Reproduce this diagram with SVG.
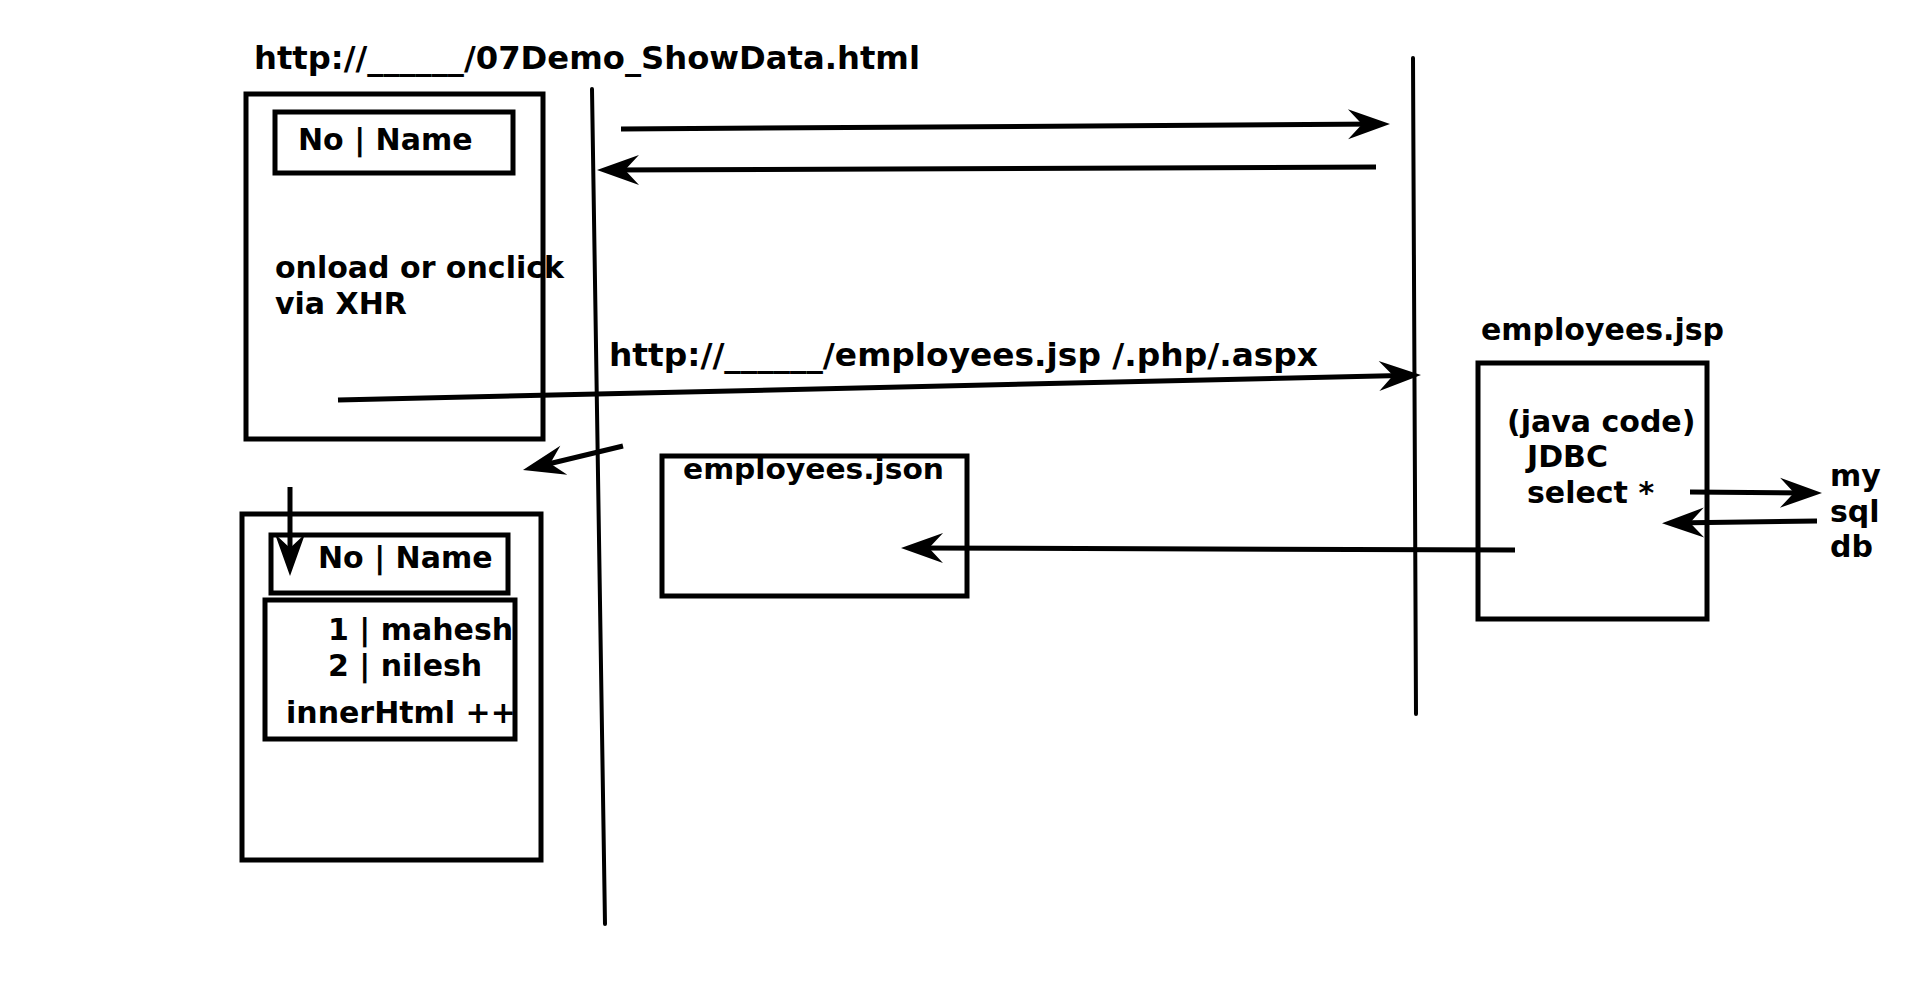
<svg xmlns="http://www.w3.org/2000/svg" width="1920" height="991" viewBox="0 0 1920 991">
<style>
  .t { font-family: "DejaVu Sans", "Liberation Sans", sans-serif; font-weight: bold; font-size: 30px; fill: #000; }
  .box { fill: none; stroke: #000; stroke-width: 5; }
  .life { stroke: #000; stroke-width: 4; fill: none; stroke-linecap: round; }
  .arr { stroke: #000; stroke-width: 5; fill: none; marker-end: url(#ah); }
</style>
<defs>
  <marker id="ah" markerUnits="userSpaceOnUse" markerWidth="50" markerHeight="40" viewBox="-46 -20 50 40" refX="-10" refY="0" orient="auto">
    <path d="M0,0 L-42,-15 L-28,0 L-42,15 Z" fill="#000"/>
  </marker>
</defs>
<rect width="1920" height="991" fill="#fff"/>

<g id="title">
  <text class="t" x="254" y="69" style="font-size:32px" textLength="666" lengthAdjust="spacingAndGlyphs">http://______/07Demo_ShowData.html</text>
</g>

<g id="page-before">
  <rect class="box" x="246" y="94" width="297" height="345"/>
  <g id="header-top">
    <rect class="box" x="275" y="112" width="238" height="61"/>
    <text class="t" x="298" y="150">No | Name</text>
  </g>
  <text class="t" x="275" y="278">onload or onclick</text>
  <text class="t" x="275" y="314">via XHR</text>
</g>

<g id="page-after">
  <rect class="box" x="242" y="514" width="299" height="346"/>
  <g id="header-bottom">
    <rect class="box" x="271" y="535" width="237" height="58"/>
    <text class="t" x="318" y="568">No | Name</text>
  </g>
  <g id="rows">
    <rect class="box" x="265" y="600" width="250" height="139"/>
    <text class="t" x="328" y="640">1 | mahesh</text>
    <text class="t" x="328" y="676">2 | nilesh</text>
    <text class="t" x="286" y="723">innerHtml ++</text>
  </g>
</g>

<g id="url-label">
  <text class="t" x="609" y="366" style="font-size:32px" textLength="709" lengthAdjust="spacingAndGlyphs">http://______/employees.jsp /.php/.aspx</text>
</g>

<g id="employees-json">
  <rect class="box" x="662" y="456" width="305" height="140"/>
  <text class="t" x="683" y="479" style="font-size:28px" textLength="261" lengthAdjust="spacingAndGlyphs">employees.json</text>
</g>

<g id="employees-jsp">
  <text class="t" x="1481" y="340">employees.jsp</text>
  <rect class="box" x="1478" y="363" width="229" height="256"/>
  <text class="t" x="1507" y="432">(java code)</text>
  <text class="t" x="1527" y="467">JDBC</text>
  <text class="t" x="1527" y="503">select *</text>
</g>

<g id="mysql-db">
  <text class="t" x="1830" y="486">my</text>
  <text class="t" x="1830" y="522">sql</text>
  <text class="t" x="1830" y="557">db</text>
</g>

<g id="connectors">
  <line class="life" x1="592" y1="89" x2="605" y2="924"/>
  <line class="life" x1="1413" y1="58" x2="1416" y2="714"/>
  <line class="arr" x1="621" y1="129" x2="1380" y2="124.1"/>
  <line class="arr" x1="1376" y1="167" x2="607" y2="170"/>
  <line class="arr" x1="338" y1="400" x2="1411" y2="375.2"/>
  <line class="arr" x1="623" y1="446" x2="532.7" y2="467.7"/>
  <line class="arr" x1="290" y1="487" x2="290" y2="566"/>
  <line class="arr" x1="1515" y1="550" x2="911" y2="548"/>
  <line class="arr" x1="1690" y1="492" x2="1812" y2="493"/>
  <line class="arr" x1="1817" y1="521" x2="1672" y2="523"/>
</g>
</svg>
